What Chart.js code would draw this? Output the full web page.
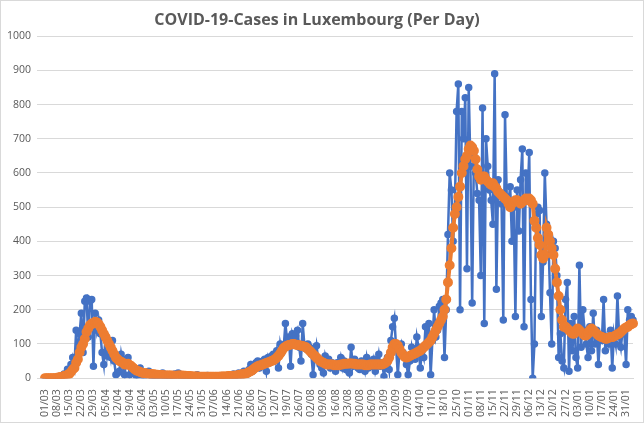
<!DOCTYPE html>
<html>
<head>
<meta charset="utf-8">
<script src="https://cdn.jsdelivr.net/npm/chart.js@4"></script>
<style>
  html, body { margin: 0; padding: 0; background: #fff; }
  #wrap { width: 642px; height: 421px; border: 1px solid #d9d9d9; position: relative; }
</style>
</head>
<body>
<div id="wrap"><canvas id="c"></canvas></div>
<script>
// daily new cases, 01/03/2020 .. 04/02/2021 (one row per week)
const cases = [
  0,0,0,0,0,2,1,
  3,5,2,7,12,8,26,
  18,40,60,35,140,60,130,
  190,75,225,234,120,225,230,
  35,190,140,170,130,75,40,
  125,65,90,60,110,50,10,
  15,20,70,40,10,55,60,
  10,30,15,25,5,20,30,
  10,5,15,10,20,8,5,
  10,3,12,5,8,15,2,
  5,10,3,8,2,12,5,
  15,8,3,10,5,2,8,
  5,3,2,6,10,4,2,
  3,5,2,8,4,6,3,
  2,5,3,7,4,2,6,
  4,8,10,3,12,6,5,
  15,10,8,20,15,12,25,
  40,20,35,45,50,30,45,
  50,55,20,60,45,65,70,
  50,80,30,100,75,90,160,
  110,120,35,130,115,125,140,
  90,50,160,95,85,100,90,
  70,10,60,95,55,40,30,
  15,65,45,55,30,45,35,
  20,45,35,60,30,50,25,
  40,15,90,35,55,45,30,
  25,50,40,20,60,30,45,
  35,55,20,40,70,35,45,
  5,40,60,25,110,150,175,
  90,10,80,100,75,60,40,
  10,50,90,60,55,120,90,
  30,80,60,150,100,160,10,
  110,200,120,140,210,220,230,
  60,200,420,600,550,400,500,
  780,860,200,780,700,820,320,
  850,620,220,650,600,540,520,
  300,790,160,700,620,550,520,
  450,890,260,580,540,510,170,
  770,530,520,560,400,500,180,
  550,430,580,670,150,600,520,
  660,230,0,100,480,500,490,
  180,340,600,450,420,250,100,
  400,380,300,60,130,50,30,
  230,280,20,160,80,180,60,
  30,330,90,200,140,100,60,
  150,80,190,100,140,40,120,
  110,230,80,120,100,140,30,
  130,100,240,120,90,140,130,
  40,200,170,180,170
];

// 7-day average
const average = [
  0,0,0,0,0,0,0,
  1,2,3,4,6,7,10,
  12,18,25,30,45,55,75,
  90,100,115,135,145,155,160,
  160,165,163,158,150,140,130,
  120,110,100,90,80,70,60,
  55,50,48,45,40,40,42,
  38,35,30,25,22,20,18,
  16,15,14,13,12,12,11,
  11,10,10,9,9,9,8,
  8,8,8,8,7,7,7,
  8,8,8,7,7,6,6,
  6,5,5,5,5,4,4,
  4,4,4,4,4,4,4,
  4,4,4,4,5,5,5,
  5,6,6,6,7,7,8,
  9,10,11,12,13,15,18,
  20,24,28,32,35,37,38,
  40,42,44,46,48,50,52,
  55,60,65,72,80,88,92,
  95,97,98,100,100,98,97,
  96,95,94,92,90,85,80,
  75,70,65,60,55,50,47,
  45,42,40,40,40,40,38,
  38,38,38,40,40,42,42,
  42,43,43,42,42,40,40,
  40,40,40,38,38,38,40,
  40,40,40,40,40,40,40,
  42,45,50,60,75,90,100,
  100,95,85,75,68,62,60,
  62,65,68,70,72,75,78,
  80,85,90,95,100,105,110,
  120,130,140,150,160,170,180,
  200,230,280,330,380,440,480,
  500,530,560,600,620,640,650,
  670,680,675,665,640,610,590,
  580,590,590,580,575,570,565,
  570,560,555,545,540,535,530,
  525,520,510,500,510,515,520,
  520,515,510,515,520,525,520,
  525,520,510,460,440,410,390,
  360,350,360,440,420,400,380,
  360,320,280,240,200,170,150,
  150,145,140,135,130,130,140,
  145,140,135,130,125,125,130,
  140,145,140,135,130,125,122,
  120,118,115,115,118,120,120,
  122,125,128,130,135,140,145,
  148,150,155,158,160
];

// categories: dd/mm for each day starting 01/03/2020
const labels = [];
const start = new Date(2020, 2, 1);
for (let i = 0; i < cases.length; i++) {
  const d = new Date(start.getFullYear(), start.getMonth(), start.getDate() + i);
  labels.push(String(d.getDate()).padStart(2, '0') + '/' + String(d.getMonth() + 1).padStart(2, '0'));
}

Chart.defaults.font.family = '"Open Sans", "Liberation Sans", sans-serif';
Chart.defaults.color = '#595959';

new Chart(document.getElementById('c'), {
  type: 'line',
  data: {
    labels: labels,
    datasets: [
      {
        label: 'Cases',
        data: cases,
        borderColor: '#4472C4',
        backgroundColor: '#4472C4',
        borderWidth: 2.5,
        pointRadius: 2.5,
        pointHoverRadius: 3,
        order: 2
      },
      {
        label: '7-day average',
        data: average,
        borderColor: '#ED7D31',
        backgroundColor: '#ED7D31',
        borderWidth: 4,
        pointRadius: 3,
        pointHoverRadius: 3,
        order: 1
      }
    ]
  },
  options: {
    responsive: true,
    maintainAspectRatio: false,
    animation: false,
    layout: { padding: { left: 0, right: 10, top: 4, bottom: 2 } },
    plugins: {
      legend: { display: false },
      tooltip: { enabled: false },
      title: {
        display: true,
        text: 'COVID-19-Cases in Luxembourg (Per Day)',
        font: { size: 16, weight: 'bold' },
        color: '#595959',
        padding: { top: 6, bottom: 6 }
      }
    },
    scales: {
      x: {
        grid: { display: false },
        border: { color: '#d9d9d9' },
        ticks: {
          autoSkip: false,
          maxRotation: 90,
          minRotation: 90,
          font: { size: 10.5 },
          callback: function (v, i) { return i % 7 === 0 ? labels[i] : null; }
        }
      },
      y: {
        min: 0,
        max: 1000,
        grid: { color: '#d9d9d9' },
        border: { display: false },
        ticks: {
          stepSize: 100,
          font: { size: 10.5 },
          padding: 6,
          callback: function (v) { return String(v); }
        }
      }
    }
  }
});
</script>
</body>
</html>
